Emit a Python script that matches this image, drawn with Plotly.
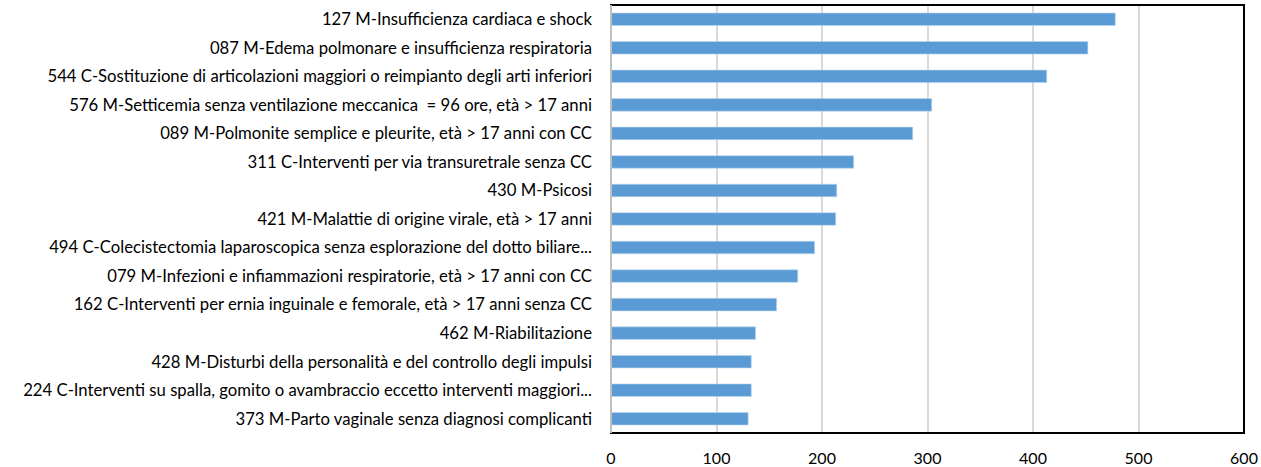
import plotly.graph_objects as go

categories = [
    "127 M-Insufficienza cardiaca e shock",
    "087 M-Edema polmonare e insufficienza respiratoria",
    "544 C-Sostituzione di articolazioni maggiori o reimpianto degli arti inferiori",
    "576 M-Setticemia senza ventilazione meccanica \u00a0= 96 ore, età > 17 anni",
    "089 M-Polmonite semplice e pleurite, età > 17 anni con CC",
    "311 C-Interventi per via transuretrale senza CC",
    "430 M-Psicosi",
    "421 M-Malattie di origine virale, età > 17 anni",
    "494 C-Colecistectomia laparoscopica senza esplorazione del dotto biliare...",
    "079 M-Infezioni e infiammazioni respiratorie, età > 17 anni con CC",
    "162 C-Interventi per ernia inguinale e femorale, età > 17 anni senza CC",
    "462 M-Riabilitazione",
    "428 M-Disturbi della personalità e del controllo degli impulsi",
    "224 C-Interventi su spalla, gomito o avambraccio eccetto interventi maggiori...",
    "373 M-Parto vaginale senza diagnosi complicanti",
]
values = [478, 452, 413, 304, 286, 230, 214, 213, 193, 177, 157, 137, 133, 133, 130]
x_ticks = [0, 100, 200, 300, 400, 500, 600]

fig = go.Figure(go.Bar(
    y=categories,
    x=values,
    orientation="h",
    width=0.44,
    marker=dict(color="#5B9BD5", line=dict(color="#BDD7EE", width=0.6)),
))

fig.update_layout(
    width=1261, height=467,
    margin=dict(l=611, r=17, t=5, b=34),
    paper_bgcolor="white", plot_bgcolor="white",
    font=dict(family="Lato, Open Sans, sans-serif", size=16.7, color="#000000"),
    showlegend=False,
)
fig.update_xaxes(
    range=[0, 600], tickvals=x_ticks, ticktext=[str(v) for v in x_ticks],
    showgrid=True, gridcolor="#D9D9D9", gridwidth=1.5,
    showline=False, zeroline=False, ticks="", ticklabelstandoff=14,
    tickfont=dict(size=16), automargin=False,
)
fig.update_yaxes(
    autorange="reversed", categoryorder="array", categoryarray=categories,
    showline=False, ticks="", ticklabelstandoff=18, showgrid=False,
    tickfont=dict(size=16.7), automargin=False,
)
# plot-area frame: black top/right/bottom, light grey left axis line
fig.add_shape(type="rect", xref="paper", yref="paper", x0=0, x1=1, y0=0, y1=1,
              line=dict(color="#000000", width=2), fillcolor="rgba(0,0,0,0)")
fig.add_shape(type="line", xref="paper", yref="paper", x0=0, x1=0, y0=0, y1=1,
              line=dict(color="#BFBFBF", width=2))

fig.write_html("out.html", config={"displayModeBar": False},
               post_script="document.body.style.margin='0';")
